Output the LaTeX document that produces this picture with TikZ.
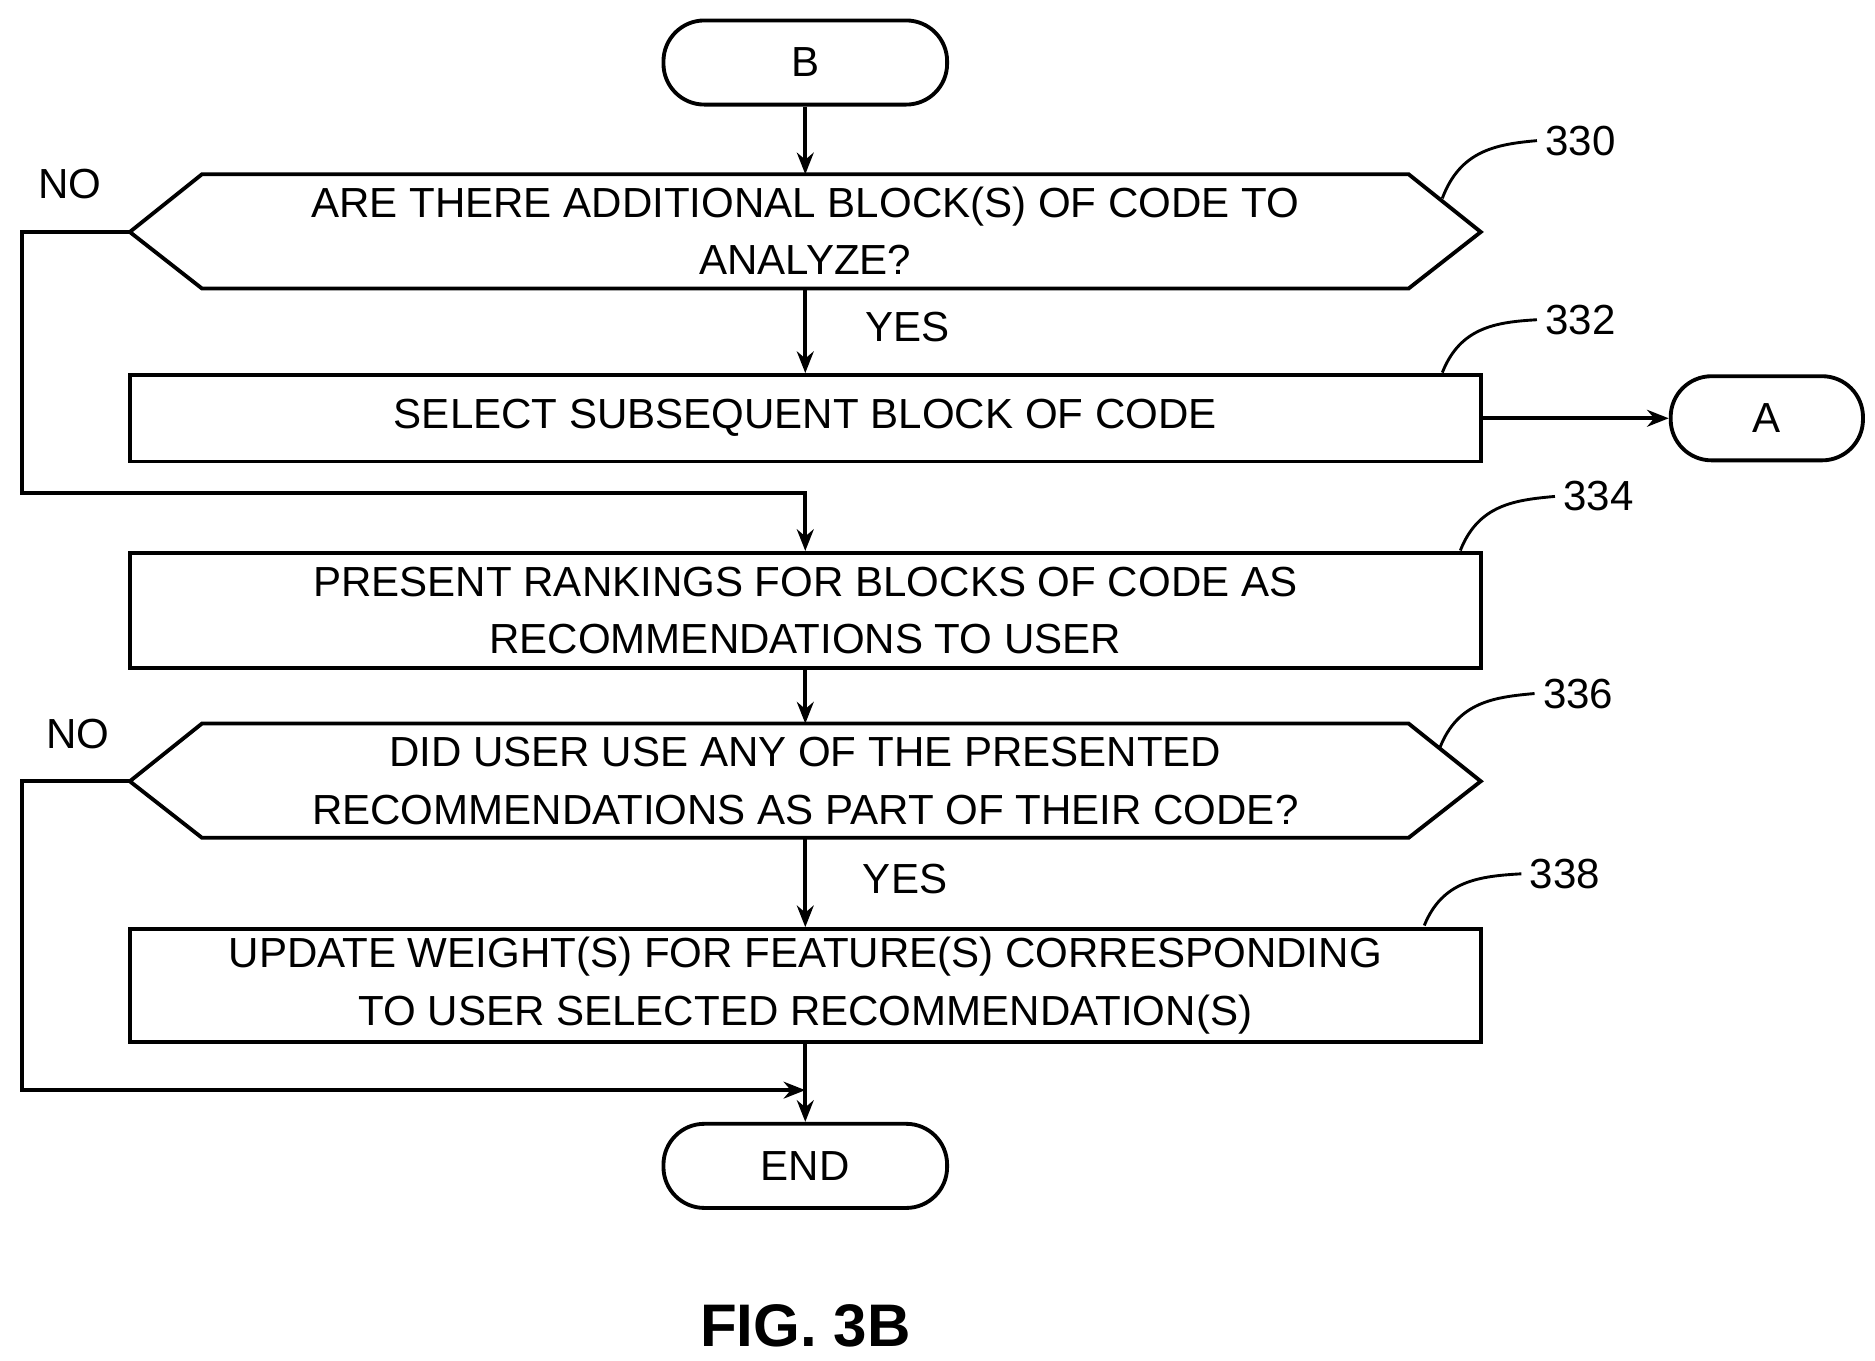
\documentclass[tikz,border=0pt]{standalone}
\usepackage{fontspec}
\setmainfont{Liberation Sans}
\usetikzlibrary{arrows.meta}
\begin{document}
\begin{tikzpicture}[x=0.5pt,y=-0.5pt,
  every node/.style={font=\fontsize{17.5}{24}\selectfont},
  lw/.style={line width=1.6pt},
  box/.style={draw,lw,minimum width=562pt,align=center,inner sep=0pt},
  term/.style={draw,lw,rounded corners=17pt,minimum width=118pt,minimum height=35pt,inner sep=0pt},
  dec/.style={minimum width=562pt,minimum height=48pt,align=center,inner sep=0pt},
  arr/.style={lw,-{Stealth[length=9pt,width=7pt]}},
  lbl/.style={font=\fontsize{17.5}{20}\selectfont},
  lead/.style={line width=1.2pt}]
\useasboundingbox (0,0) rectangle (1560,1132);
\node[term] (B) at (670,52) {B};
\node[dec] (d1) at (670,192) {ARE THERE ADDITIONAL BLOCK(S) OF CODE TO\\ANALYZE?};
\draw[lw] (108,193) -- (168,145) -- (1172,145) -- (1232,193) -- (1172,240) -- (168,240) -- cycle;
\coordinate (d1l) at (108,193); \coordinate (d1b) at (670,240); \coordinate (d1t) at (670,145);
\node[box,minimum height=36pt] (b332) at (670,348) {SELECT SUBSEQUENT BLOCK OF CODE};
\node[term,minimum width=80pt] (A) at (1470,348) {A};
\node[box,minimum height=48pt] (b334) at (670,508) {PRESENT RANKINGS FOR BLOCKS OF CODE AS\\RECOMMENDATIONS TO USER};
\node[dec] (d2) at (670,650) {DID USER USE ANY OF THE PRESENTED\\RECOMMENDATIONS AS PART OF THEIR CODE?};
\draw[lw] (108,650) -- (168,602) -- (1172,602) -- (1232,650) -- (1172,697) -- (168,697) -- cycle;
\coordinate (d2l) at (108,650); \coordinate (d2b) at (670,697); \coordinate (d2t) at (670,602);
\node[box,minimum height=47pt] (b338) at (670,820) {UPDATE WEIGHT(S) FOR FEATURE(S) CORRESPONDING\\TO USER SELECTED RECOMMENDATION(S)};
\node[term] (E) at (670,970) {END};
\draw[arr] (B) -- (d1t);
\draw[arr] (d1b) -- (b332.north);
\draw[arr] (b332.east) -- (A.west);
\draw[arr] (d1l) -- (18,193) -- (18,410) -- (670,410) -- (b334.north);
\draw[arr] (b334.south) -- (d2t);
\draw[arr] (d2b) -- (b338.north);
\draw[arr] (b338.south) -- (E.north);
\coordinate (j) at (670,907);
\draw[arr] (d2l) -- (18,650) -- (18,907) -- (j);
\node (no1) at (58,153) {NO};
\node (yes1) at (755,272) {YES};
\node (no2) at (65,611) {NO};
\node (yes2) at (753,731) {YES};
\node[lbl] (l330) at (1315,117) {330};
\node[lbl] (l332) at (1315,266) {332};
\node[lbl] (l334) at (1330,413) {334};
\node[lbl] (l336) at (1313,577) {336};
\node[lbl] (l338) at (1302,727) {338};
\draw[lead] (1200,165) .. controls (1215,125) and (1245,120) .. (l330.west);
\draw[lead] (1200,310) .. controls (1215,272) and (1245,268) .. (l332.west);
\draw[lead] (1215,458) .. controls (1230,420) and (1260,416) .. (l334.west);
\draw[lead] (1198,622) .. controls (1213,584) and (1243,580) .. (l336.west);
\draw[lead] (1185,770) .. controls (1200,733) and (1230,729) .. (l338.west);
\node[font=\bfseries\fontsize{25}{30}\selectfont] (fig) at (670,1103) {FIG. 3B};
\end{tikzpicture}
\end{document}
